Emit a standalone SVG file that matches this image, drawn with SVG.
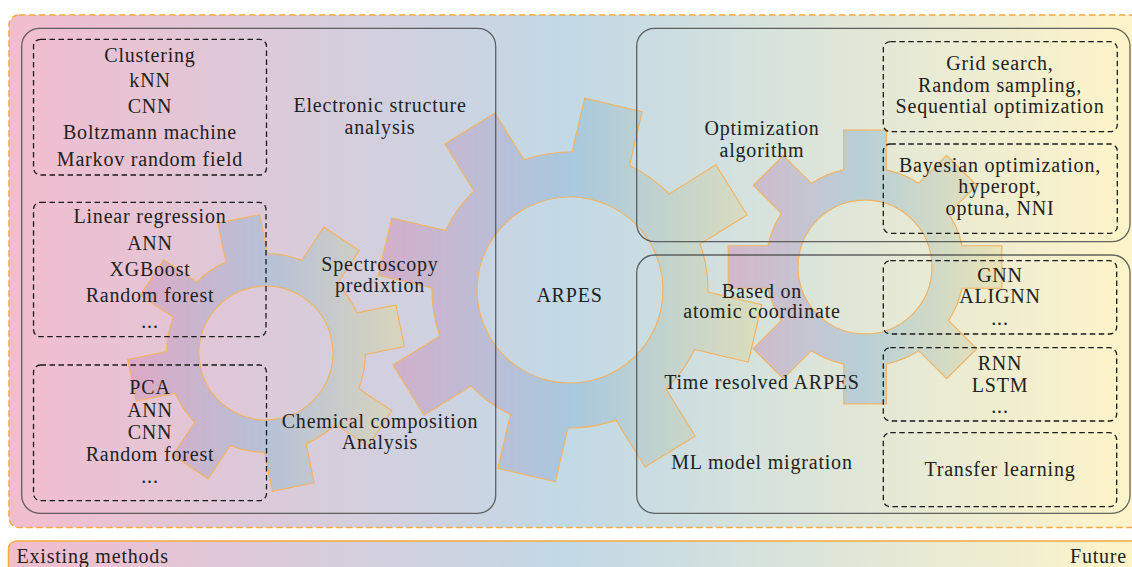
<svg xmlns="http://www.w3.org/2000/svg" width="1132" height="567" viewBox="0 0 1132 567" font-family="Liberation Serif, DejaVu Serif, serif">
<style>
.t{font-family:'Liberation Serif','DejaVu Serif',serif;font-size:20px;fill:#222;text-anchor:middle;letter-spacing:0.8px}
.tl{font-family:'Liberation Serif','DejaVu Serif',serif;font-size:20px;fill:#222;letter-spacing:0.8px}
.big{fill:none;stroke:#4a4a4a;stroke-opacity:0.85;stroke-width:1.3}
.dash{fill:none;stroke:#1a1a1a;stroke-width:1.3;stroke-dasharray:5.5 3.5}
.gearp{stroke:#f2b463;stroke-width:1.2;vector-effect:non-scaling-stroke;fill-rule:evenodd}
.frame{stroke:#f5a93e;stroke-width:1.5}
</style>
<defs>
<linearGradient id="bg" gradientUnits="userSpaceOnUse" x1="9" y1="0" x2="1132" y2="0">
<stop offset="0" stop-color="#f2bdce"/>
<stop offset="0.5" stop-color="#c2d9e6"/>
<stop offset="1" stop-color="#fef4c9"/>
</linearGradient>
<linearGradient id="gC" gradientUnits="userSpaceOnUse" x1="-192" y1="0" x2="192" y2="0" gradientTransform="rotate(-13.2)">
<stop offset="0" stop-color="#d48eb6"/>
<stop offset="0.5" stop-color="#8fb8d6"/>
<stop offset="1" stop-color="#e2d89c"/>
</linearGradient>
<linearGradient id="gL" gradientUnits="userSpaceOnUse" x1="-192" y1="0" x2="192" y2="0" gradientTransform="rotate(11.5)">
<stop offset="0" stop-color="#d48eb6"/>
<stop offset="0.5" stop-color="#8fb8d6"/>
<stop offset="1" stop-color="#e2d89c"/>
</linearGradient>
<linearGradient id="gR" gradientUnits="userSpaceOnUse" x1="-192" y1="0" x2="192" y2="0">
<stop offset="0" stop-color="#d48eb6"/>
<stop offset="0.5" stop-color="#8fb8d6"/>
<stop offset="1" stop-color="#e2d89c"/>
</linearGradient>
<path id="gear" class="gearp" d="M134.81,-29.5 L190,-29.5 L190,29.5 L134.81,29.5 A138,138 0 0 1 116.18,74.47 L155.21,113.49 L113.49,155.21 L74.47,116.18 A138,138 0 0 1 29.5,134.81 L29.5,190 L-29.5,190 L-29.5,134.81 A138,138 0 0 1 -74.47,116.18 L-113.49,155.21 L-155.21,113.49 L-116.18,74.47 A138,138 0 0 1 -134.81,29.5 L-190,29.5 L-190,-29.5 L-134.81,-29.5 A138,138 0 0 1 -116.18,-74.47 L-155.21,-113.49 L-113.49,-155.21 L-74.47,-116.18 A138,138 0 0 1 -29.5,-134.81 L-29.5,-190 L29.5,-190 L29.5,-134.81 A138,138 0 0 1 74.47,-116.18 L113.49,-155.21 L155.21,-113.49 L116.18,-74.47 A138,138 0 0 1 134.81,-29.5 Z M93,0 A93,93 0 1 1 -93,0 A93,93 0 1 1 93,0 Z"/>
</defs>

<g id="background">
<rect x="9" y="15" width="1140" height="512.5" rx="10" fill="url(#bg)" class="frame" stroke-dasharray="6.5 3.5"/>
</g>

<g id="timeline">
<rect x="8.5" y="541" width="1140" height="40" rx="8" fill="url(#bg)" class="frame" stroke-width="1.3"/>
<text class="tl" x="16.5" y="563.3">Existing methods</text>
<text class="tl" x="1127" y="562.7" text-anchor="end">Future</text>
</g>

<g id="gears">
<use href="#gear" transform="translate(570,290) rotate(13.2)" fill="url(#gC)" fill-opacity="0.5"/>
<use href="#gear" transform="translate(266,353) rotate(-11.5) scale(0.72)" fill="url(#gL)" fill-opacity="0.5"/>
<use href="#gear" transform="translate(865,267) scale(0.72)" fill="url(#gR)" fill-opacity="0.5"/>
</g>

<g id="connectors"></g>

<g id="existing-methods">
<rect class="big" x="21.7" y="28.3" width="474" height="485" rx="18"/>
<text class="t" x="380" y="112.3">Electronic structure</text>
<text class="t" x="380" y="134.3">analysis</text>
<text class="t" x="380" y="270.7">Spectroscopy</text>
<text class="t" x="380" y="292">predixtion</text>
<text class="t" x="380" y="428.3">Chemical composition</text>
<text class="t" x="380" y="449.3">Analysis</text>
</g>

<g id="box-electronic">
<rect class="dash" x="33.5" y="39.3" width="233" height="135.7" rx="7"/>
<text class="t" x="150" y="61.7">Clustering</text>
<text class="t" x="150" y="87.3">kNN</text>
<text class="t" x="150" y="112.7">CNN</text>
<text class="t" x="150" y="139">Boltzmann machine</text>
<text class="t" x="150" y="165.5">Markov random field</text>
</g>

<g id="box-spectroscopy">
<rect class="dash" x="33.5" y="202.3" width="232.5" height="134.4" rx="7"/>
<text class="t" x="150" y="223.3">Linear regression</text>
<text class="t" x="150" y="250">ANN</text>
<text class="t" x="150" y="276">XGBoost</text>
<text class="t" x="150" y="301.7">Random forest</text>
<text class="t" x="150" y="328.3">...</text>
</g>

<g id="box-chemical">
<rect class="dash" x="33.5" y="365" width="233" height="135.7" rx="7"/>
<text class="t" x="150" y="394.3">PCA</text>
<text class="t" x="150" y="416.7">ANN</text>
<text class="t" x="150" y="439">CNN</text>
<text class="t" x="150" y="461">Random forest</text>
<text class="t" x="150" y="483.3">...</text>
</g>

<g id="arpes">
<text class="t" x="569.5" y="302">ARPES</text>
</g>

<g id="optimization">
<rect class="big" x="636.7" y="28.3" width="493.3" height="213.4" rx="18"/>
<text class="t" x="762" y="135">Optimization</text>
<text class="t" x="762" y="156.7">algorithm</text>
</g>

<g id="box-grid">
<rect class="dash" x="883.3" y="41.7" width="234" height="90" rx="7"/>
<text class="t" x="1000" y="70">Grid search,</text>
<text class="t" x="1000" y="91.7">Random sampling,</text>
<text class="t" x="1000" y="113.3">Sequential optimization</text>
</g>

<g id="box-bayes">
<rect class="dash" x="883.3" y="144" width="234" height="89.3" rx="7"/>
<text class="t" x="1000" y="171.7">Bayesian optimization,</text>
<text class="t" x="1000" y="193.3">hyperopt,</text>
<text class="t" x="1000" y="215">optuna, NNI</text>
</g>

<g id="future-methods">
<rect class="big" x="636.7" y="255" width="493.3" height="258.3" rx="18"/>
<text class="t" x="762" y="298.3">Based on</text>
<text class="t" x="762" y="318.3">atomic coordinate</text>
<text class="t" x="762" y="389.3">Time resolved ARPES</text>
<text class="t" x="762" y="469.3">ML model migration</text>
</g>

<g id="box-gnn">
<rect class="dash" x="883.3" y="260.7" width="233.4" height="73.3" rx="7"/>
<text class="t" x="1000" y="281.7">GNN</text>
<text class="t" x="1000" y="303.3">ALIGNN</text>
<text class="t" x="1000" y="325">...</text>
</g>

<g id="box-rnn">
<rect class="dash" x="883.3" y="347.7" width="233.4" height="73.3" rx="7"/>
<text class="t" x="1000" y="370">RNN</text>
<text class="t" x="1000" y="391.7">LSTM</text>
<text class="t" x="1000" y="412.7">...</text>
</g>

<g id="box-transfer">
<rect class="dash" x="883.3" y="432.7" width="233.4" height="74" rx="7"/>
<text class="t" x="1000" y="476">Transfer learning</text>
</g>
</svg>
